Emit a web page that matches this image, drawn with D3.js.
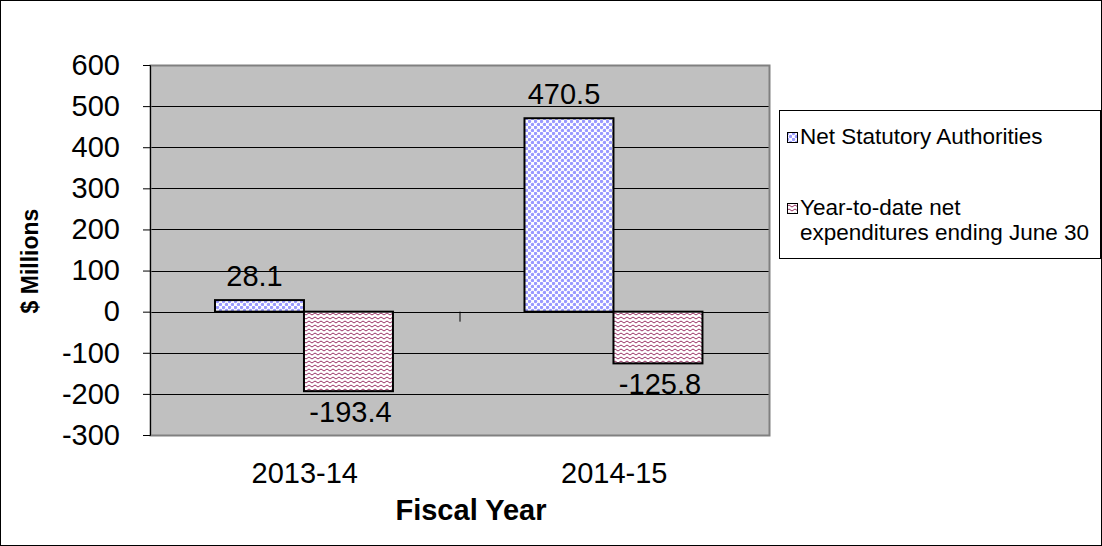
<!DOCTYPE html>
<html>
<head>
<meta charset="utf-8">
<script src="https://cdn.jsdelivr.net/npm/d3@7"></script>
<style>
  body { margin: 0; background: #fff; }
  svg { display: block; font-family: "Liberation Sans", Arial, sans-serif; }
</style>
</head>
<body>
<div id="chart"></div>
<script>
var categories = ["2013-14", "2014-15"];
var seriesNames = ["Net Statutory Authorities", "Year-to-date net expenditures ending June 30"];
var statutory = [28.1, 470.5];
var ytdSpending = [-193.4, -125.8];
var yTicks = [600, 500, 400, 300, 200, 100, 0, -100, -200, -300];

var W = 1102, H = 546;
var plot = {left: 150, right: 769, top: 65, bottom: 435};

var svg = d3.select("#chart").append("svg")
    .attr("width", W).attr("height", H);

// patterns
var defs = svg.append("defs");
var dots = defs.append("pattern").attr("id", "dots")
    .attr("patternUnits", "userSpaceOnUse").attr("width", 6).attr("height", 6);
dots.append("rect").attr("width", 6).attr("height", 6).attr("fill", "#fff");
dots.append("circle").attr("cx", 1.5).attr("cy", 1.5).attr("r", 1.7).attr("fill", "#9999ff");
dots.append("circle").attr("cx", 4.5).attr("cy", 4.5).attr("r", 1.7).attr("fill", "#9999ff");

var zig = defs.append("pattern").attr("id", "zig")
    .attr("patternUnits", "userSpaceOnUse").attr("width", 6).attr("height", 4);
zig.append("rect").attr("width", 6).attr("height", 4).attr("fill", "#fff");
zig.append("path").attr("d", "M0,3 L3,1 L6,3").attr("fill", "none")
    .attr("stroke", "#993366").attr("stroke-width", 1);

svg.append("rect").attr("x", 0.5).attr("y", 0.5).attr("width", W - 1).attr("height", H - 1)
    .attr("fill", "#fff").attr("stroke", "#000");

var y = d3.scaleLinear().domain([-300, 600]).range([plot.bottom, plot.top]);
var x0 = d3.scaleBand().domain(categories).range([plot.left, plot.right]);
var x1 = d3.scaleBand().domain([0, 1])
    .range([x0.bandwidth() * 0.21, x0.bandwidth() * 0.785]);

svg.append("rect").attr("x", plot.left).attr("y", plot.top)
    .attr("width", plot.right - plot.left).attr("height", plot.bottom - plot.top)
    .attr("fill", "#c0c0c0");

// gridlines
svg.append("g").selectAll("line").data(yTicks.filter(function(d){ return d > -300 && d < 600; }))
  .enter().append("line")
    .attr("x1", plot.left).attr("x2", plot.right)
    .attr("y1", function(d){ return Math.round(y(d)) + 0.5; })
    .attr("y2", function(d){ return Math.round(y(d)) + 0.5; })
    .attr("stroke", "#000");

svg.append("rect").attr("x", plot.left + 0.5).attr("y", plot.top + 0.5)
    .attr("width", plot.right - plot.left).attr("height", plot.bottom - plot.top)
    .attr("fill", "none").attr("stroke", "#808080").attr("stroke-width", 2);

// y axis
var yAxis = d3.axisLeft(y).tickValues(yTicks).tickSize(7).tickPadding(23)
    .tickFormat(function(d){ return String(d); });
var gy = svg.append("g").attr("transform", "translate(" + (plot.left) + ",0)").call(yAxis);
gy.select(".domain").attr("stroke", "#000");
gy.selectAll(".tick line").attr("stroke", "#000");
gy.selectAll(".tick text").attr("font-size", 29).attr("fill", "#000")
    .attr("font-family", "Liberation Sans, Arial, sans-serif");

// category tick at zero line
svg.append("line").attr("x1", x0(categories[1]) + 0.5).attr("x2", x0(categories[1]) + 0.5)
    .attr("y1", y(0)).attr("y2", y(0) + 10).attr("stroke", "#000");

// bars
var series = [statutory, ytdSpending];
var fills = ["url(#dots)", "url(#zig)"];
series.forEach(function(vals, si) {
  svg.append("g").selectAll("rect").data(vals).enter().append("rect")
    .attr("x", function(d, i){ return x0(categories[i]) + x1(si); })
    .attr("width", x1.bandwidth())
    .attr("y", function(d){ return y(Math.max(0, d)); })
    .attr("height", function(d){ return Math.abs(y(d) - y(0)); })
    .attr("fill", fills[si]).attr("stroke", "#000").attr("stroke-width", 2);

  svg.append("g").selectAll("text").data(vals).enter().append("text")
    .attr("x", function(d, i){ return x0(categories[i]) + x1(si) + x1.bandwidth() / 2 + (d >= 0 ? -5 : 2); })
    .attr("y", function(d){ return d >= 0 ? y(d) - 14 : y(d) + 31; })
    .attr("text-anchor", "middle").attr("font-size", 29)
    .text(function(d){ return d.toFixed(1); });
});

// category labels
svg.append("g").selectAll("text").data(categories).enter().append("text")
    .attr("x", function(d){ return x0(d) + x0.bandwidth() / 2; })
    .attr("y", 483).attr("text-anchor", "middle").attr("font-size", 29)
    .text(function(d){ return d; });

svg.append("text").attr("x", 471).attr("y", 520).attr("text-anchor", "middle")
    .attr("font-size", 29).attr("font-weight", "bold").text("Fiscal Year");

svg.append("text").attr("transform", "translate(38,261) rotate(-90)")
    .attr("text-anchor", "middle").attr("font-size", 23).attr("font-weight", "bold")
    .text("$ Millions");

// legend
var lg = svg.append("g");
lg.append("rect").attr("x", 779.5).attr("y", 110.5).attr("width", 321).attr("height", 148)
    .attr("fill", "#fff").attr("stroke", "#000");
var legendRows = [
  {fill: "url(#dots)", lines: [seriesNames[0]], y: 144},
  {fill: "url(#zig)", lines: ["Year-to-date net", "expenditures ending June 30"], y: 215}
];
legendRows.forEach(function(r) {
  lg.append("rect").attr("x", 787.5).attr("y", r.y - 11.5).attr("width", 10).attr("height", 10)
      .attr("fill", r.fill).attr("stroke", "#000");
  var t = lg.append("text").attr("x", 800).attr("y", r.y).attr("font-size", 22.5);
  r.lines.forEach(function(l, i) {
    t.append("tspan").attr("x", 800).attr("dy", i === 0 ? 0 : 25).text(l);
  });
});
</script>
</body>
</html>
